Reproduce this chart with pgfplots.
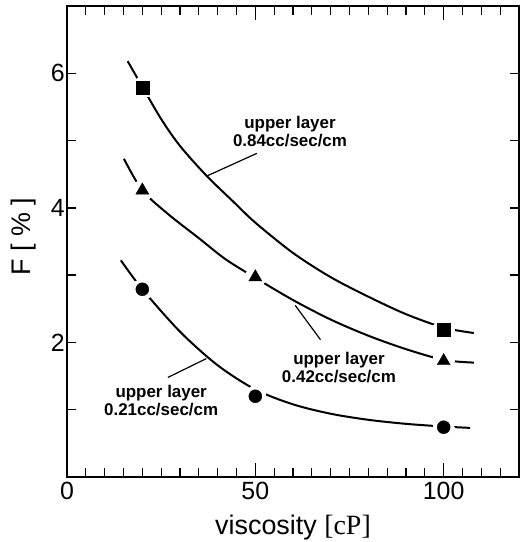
\documentclass[border=0pt]{standalone}
\usepackage{fontspec}
\setmainfont{Liberation Sans}
\newfontfamily\seriffont{Liberation Serif}
\usepackage{pgfplots}
\pgfplotsset{compat=1.18}

\pgfplotstableread{
x y
16.1 6.18
20 5.80
25 5.32
30 4.92
37 4.48
44 4.10
50 3.78
60 3.33
70 2.97
80 2.68
90 2.42
100 2.22
108 2.14
}\curveA
\pgfplotstableread{
x y
15.1 4.73
20 4.26
27 3.90
35 3.55
42 3.24
50 2.96
60 2.63
70 2.34
80 2.10
90 1.90
100 1.74
108 1.70
}\curveB
\pgfplotstableread{
x y
14.3 3.22
20 2.79
30 2.16
40 1.66
50 1.30
60 1.08
70 0.94
80 0.85
90 0.79
100 0.75
107 0.73
}\curveC

\begin{document}
\begin{tikzpicture}
\useasboundingbox (-67bp,-65bp) rectangle (459bp,477bp);
\begin{axis}[
  at={(0,0)}, anchor=south west,
  scale only axis, width=452bp, height=471bp,
  xmin=0, xmax=120, ymin=0, ymax=7,
  axis line style={line width=1.5bp},
  xtick={0,50,100},
  minor xtick={5,10,...,45,55,60,...,95,105,110,115},
  ytick={2,4,6}, minor ytick={1,3,5},
  tick align=inside,
  major tick length=9bp, minor tick length=9bp,
  tick style={line width=1.3bp, black},
  extra x ticks={50,100}, extra x tick labels={},
  extra x tick style={major tick length=14bp},
  /pgf/number format/assume math mode=true,
  tick label style={font=\fontsize{25}{25}\selectfont},
  xticklabel style={inner sep=0pt, anchor=north, yshift=-5bp},
  yticklabel style={inner sep=0pt, anchor=east, xshift=-2bp},
  xlabel={viscosity {\seriffont\fontsize{28}{28}\selectfont[cP]}},
  ylabel={F [ \% ]},
  label style={font=\fontsize{27}{27}\selectfont},
  xlabel style={at={(axis description cs:0.5,0)}, anchor=base, yshift=-57bp},
  ylabel style={at={(axis description cs:0,0.51)}, anchor=center, yshift=43bp},
  clip=false,
]
\addplot[line width=2bp, smooth, tension=0.5] table[x=x,y=y] {\curveA};
\addplot[line width=2bp, smooth, tension=0.5] table[x=x,y=y] {\curveB};
\addplot[line width=2bp, smooth, tension=0.5] table[x=x,y=y] {\curveC};
% white halos around the markers (gaps in the curves)
\addplot[only marks, white, mark=*, mark size=10.5bp, mark options={draw=white, fill=white, line width=0pt}] coordinates {
(20,5.79) (100,2.195) (20,4.26) (50,2.97) (100,1.724) (20,2.79) (50,1.20) (100,0.74)};
\addplot[only marks, black, mark=square*, mark size=6.5bp, mark options={fill=black, draw=black}] coordinates {(20,5.79) (100,2.195)};
\addplot[only marks, black, mark=triangle*, mark size=7.5bp, mark options={fill=black, draw=black}] coordinates {(20,4.26) (50,2.97) (100,1.724)};
\addplot[only marks, black, mark=*, mark size=6.5bp, mark options={fill=black, draw=black}] coordinates {(20,2.79) (50,1.20) (100,0.74)};
% annotations
\draw[line width=1.2bp] (axis cs:50.4,4.81) -- (axis cs:37.0,4.47);
\draw[line width=1.2bp] (axis cs:67.3,2.04) -- (axis cs:60.6,2.55);
\draw[line width=1.2bp] (axis cs:26.8,1.48) -- (axis cs:37.0,1.76);
\node[align=center, inner sep=0pt, font=\fontsize{17}{18}\selectfont\bfseries] at (axis cs:59.2,5.13) {upper layer\\0.84cc/sec/cm};
\node[align=center, inner sep=0pt, font=\fontsize{17}{18}\selectfont\bfseries] at (axis cs:72.2,1.62) {upper layer\\0.42cc/sec/cm};
\node[align=center, inner sep=0pt, font=\fontsize{17}{18}\selectfont\bfseries] at (axis cs:25.0,1.14) {upper layer\\0.21cc/sec/cm};
\end{axis}
\end{tikzpicture}
\end{document}
